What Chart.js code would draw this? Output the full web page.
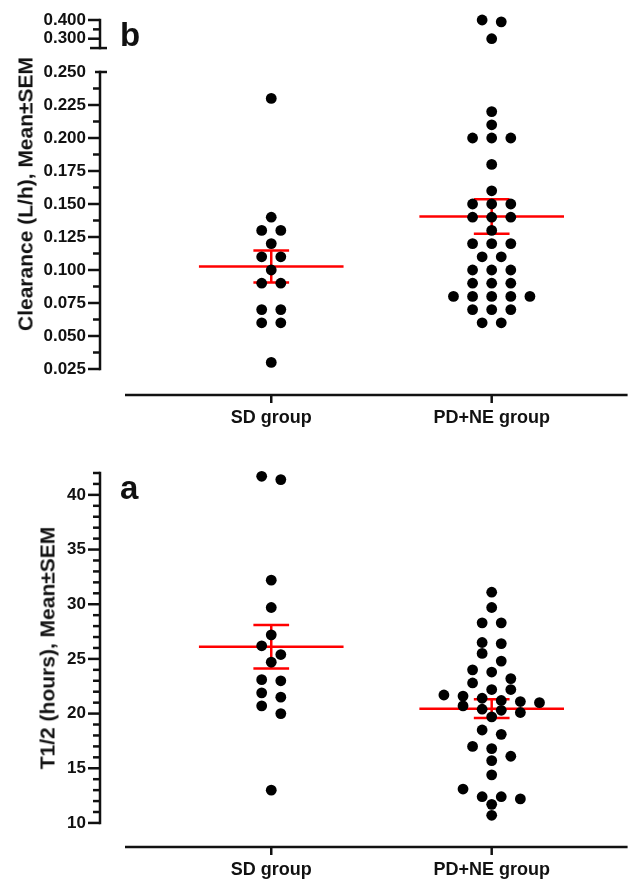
<!DOCTYPE html>
<html>
<head>
<meta charset="utf-8">
<script src="https://cdn.jsdelivr.net/npm/chart.js@4.4.1/dist/chart.umd.min.js"></script>
<style>
  html, body { margin: 0; padding: 0; background: #fff; }
  #page { position: relative; width: 633px; height: 881px; overflow: hidden; }
  canvas { position: absolute; left: 0; }
  .ytitle {
    position: absolute; white-space: nowrap; color: #111;
    font: bold 21px 'Liberation Sans', Arial, sans-serif; line-height: 21px;
    transform: translate(-50%, -50%) rotate(-90deg);
  }
  .letter {
    position: absolute; color: #111;
    font: bold 33px 'Liberation Sans', Arial, sans-serif; line-height: 33px;
  }
</style>
</head>
<body>
<div id="page">
  <canvas id="clUpper" width="633" height="56" style="top:0"></canvas>
  <canvas id="clLower" width="633" height="384" style="top:56px"></canvas>
  <canvas id="halfLife" width="633" height="441" style="top:440px"></canvas>
  <div class="ytitle" style="left:25px; top:194px">Clearance (L/h), Mean±SEM</div>
  <div class="ytitle" style="left:47px; top:648px">T1/2 (hours), Mean±SEM</div>
  <div class="letter" style="left:120px; top:18px">b</div>
  <div class="letter" style="left:120px; top:471px">a</div>
</div>
<script>
// data
const groups = ['SD group', 'PD+NE group'];

const sdClearance = [0.23, 0.14, 0.13, 0.13, 0.12, 0.11, 0.11, 0.10, 0.09, 0.09, 0.07, 0.07, 0.06, 0.06, 0.03];
const pdneClearance = [0.40, 0.39, 0.30, 0.22, 0.21, 0.20, 0.20, 0.20, 0.18, 0.16, 0.15, 0.15, 0.15,
  0.14, 0.14, 0.14, 0.13, 0.12, 0.12, 0.12, 0.11, 0.11, 0.10, 0.10, 0.10, 0.09, 0.09, 0.09,
  0.08, 0.08, 0.08, 0.08, 0.08, 0.07, 0.07, 0.07, 0.06, 0.06];

const sdHalfLife = [41.7, 41.4, 32.2, 29.7, 27.2, 26.2, 25.4, 24.7, 23.1, 23.0, 21.9, 21.5, 20.7, 20.0, 13.0];
const pdneHalfLife = [31.1, 29.7, 28.3, 28.3, 26.5, 26.4, 25.5, 24.8, 24.0, 23.8, 23.2, 22.8, 22.2, 22.2,
  21.7, 21.6, 21.4, 21.2, 21.1, 21.0, 20.7, 20.4, 20.3, 20.1, 19.7, 18.5, 18.1, 17.0, 16.8, 16.1,
  15.7, 14.4, 13.1, 12.4, 12.4, 12.2, 11.7, 10.7];

const clearanceTicksHigh = [0.3, 0.4];
const clearanceTicksLow = [0.025, 0.05, 0.075, 0.1, 0.125, 0.15, 0.175, 0.2, 0.225, 0.25];
const halfLifeTicks = [10, 15, 20, 25, 30, 35, 40];
const axisBreak = 0.25;

// look
const INK = '#111';
const RED = '#ff0000';
const FONT = "'Liberation Sans', Arial, sans-serif";
const X_MIN = 0.2232, X_MAX = 2.6165;
const STEP = 0.0867;       // beeswarm column spacing (x units)
const MEAN_HALF = 0.328;   // half length of mean bar
const CAP_HALF = 0.081;    // half length of SEM caps

const mean = a => a.reduce((s, v) => s + v, 0) / a.length;
const sem = a => {
  const m = mean(a);
  const sd = Math.sqrt(a.reduce((s, v) => s + (v - m) ** 2, 0) / (a.length - 1));
  return sd / Math.sqrt(a.length);
};

// simple row-binned beeswarm, like the prism dot plot
function swarm(values, center, binH) {
  const sorted = values.slice().sort((a, b) => b - a);
  const pts = [];
  let i = 0;
  while (i < sorted.length) {
    let j = i;
    while (j < sorted.length && sorted[i] - sorted[j] < binH) j++;
    const n = j - i;
    for (let k = 0; k < n; k++) pts.push({ x: center + (k - (n - 1) / 2) * STEP, y: sorted[i + k] });
    i = j;
  }
  return pts;
}

function dots(values, idx, binH) {
  return {
    data: swarm(values, idx + 1, binH),
    backgroundColor: '#000', borderWidth: 0,
    pointRadius: 5.4, pointHoverRadius: 5.4, clip: false
  };
}

const every = (from, to, step) => {
  const out = [];
  for (let v = from; v <= to + 1e-9; v += step) out.push(+v.toFixed(4));
  return out;
};

const frames = {
  clUpper: {
    axisFrom: 0.4, axisTo: axisBreak, major: clearanceTicksHigh, minor: [0.35], capBottom: true
  },
  clLower: {
    axisFrom: axisBreak, axisTo: 0.025, capTop: true, xAxis: true,
    major: clearanceTicksLow.filter(v => v < axisBreak),
    minor: every(0.0375, 0.2375, 0.025),
    stats: [sdClearance, pdneClearance]
  },
  halfLife: {
    axisFrom: 42, axisTo: 10, xAxis: true, major: halfLifeTicks,
    minor: every(11, 42, 1).filter(v => v % 5 !== 0),
    stats: [sdHalfLife, pdneHalfLife]
  }
};

function seg(ctx, x1, y1, x2, y2) {
  ctx.beginPath(); ctx.moveTo(x1, y1); ctx.lineTo(x2, y2); ctx.stroke();
}

const axesPlugin = {
  id: 'axes',
  beforeDatasetsDraw(chart) {
    const f = frames[chart.canvas.id];
    if (!f.stats) return;
    const { ctx, scales: { x, y } } = chart;
    ctx.save();
    ctx.strokeStyle = RED;
    ctx.lineWidth = 2.5;
    f.stats.forEach((vals, i) => {
      const c = i + 1, m = mean(vals), e = sem(vals);
      const py = y.getPixelForValue(m);
      seg(ctx, x.getPixelForValue(c - MEAN_HALF), py, x.getPixelForValue(c + MEAN_HALF), py);
      seg(ctx, x.getPixelForValue(c), y.getPixelForValue(m - e), x.getPixelForValue(c), y.getPixelForValue(m + e));
      [m - e, m + e].forEach(v => {
        const p = y.getPixelForValue(v);
        seg(ctx, x.getPixelForValue(c - CAP_HALF), p, x.getPixelForValue(c + CAP_HALF), p);
      });
    });
    ctx.restore();
  },
  afterDraw(chart) {
    const f = frames[chart.canvas.id];
    const { ctx, chartArea: a, scales: { x, y } } = chart;
    const ax = a.left;
    ctx.save();
    ctx.strokeStyle = INK;
    ctx.lineWidth = 2.5;
    const top = y.getPixelForValue(f.axisFrom), bot = y.getPixelForValue(f.axisTo);
    seg(ctx, ax, top - 1.2, ax, bot + 1.2);
    f.major.forEach(v => { const p = y.getPixelForValue(v); seg(ctx, ax - 12, p, ax, p); });
    f.minor.forEach(v => { const p = y.getPixelForValue(v); seg(ctx, ax - 7, p, ax, p); });
    if (f.capTop) seg(ctx, ax - 5, top, ax + 7, top);
    if (f.capBottom) seg(ctx, ax - 10, bot, ax + 7, bot);
    if (f.xAxis) {
      const yy = a.bottom;
      seg(ctx, ax + 25, yy, a.right, yy);
      groups.forEach((g, i) => {
        const px = x.getPixelForValue(i + 1);
        seg(ctx, px, yy, px, yy + 8);
      });
    }
    ctx.restore();
  }
};

function makeChart(id, cfg) {
  return new Chart(document.getElementById(id), {
    type: 'scatter',
    data: { datasets: cfg.datasets },
    options: {
      responsive: false,
      animation: false,
      events: [],
      layout: { padding: { top: cfg.padTop, left: 0, right: 0, bottom: 0 } },
      plugins: { legend: { display: false }, tooltip: { enabled: false } },
      scales: {
        x: {
          type: 'linear', min: X_MIN, max: X_MAX, display: cfg.showX,
          afterBuildTicks: s => { s.ticks = groups.map((g, i) => ({ value: i + 1 })); },
          afterFit: s => { s.height = cfg.xHeight; s.paddingLeft = 0; s.paddingRight = 0; },
          ticks: {
            callback: v => groups[v - 1], color: INK, padding: 4, autoSkip: false, maxRotation: 0,
            font: { family: FONT, size: 18, weight: 'bold' }
          },
          grid: { display: true, drawOnChartArea: false, drawTicks: true, tickLength: 8, tickColor: 'rgba(0,0,0,0)' },
          border: { display: false }
        },
        y: {
          type: 'linear', min: cfg.yMin, max: cfg.yMax,
          afterBuildTicks: s => { s.ticks = cfg.ticks.map(v => ({ value: v })); },
          afterFit: s => { s.width = 100; s.paddingTop = 0; s.paddingBottom = 0; },
          ticks: {
            callback: cfg.fmt, color: INK, padding: 2, autoSkip: false,
            font: { family: FONT, size: 17, weight: 'bold' }
          },
          grid: { display: true, drawOnChartArea: false, drawTicks: true, tickLength: 12, tickColor: 'rgba(0,0,0,0)' },
          border: { display: false }
        }
      }
    },
    plugins: [axesPlugin]
  });
}

const fmt3 = v => Number(v).toFixed(3);

makeChart('clUpper', {
  datasets: [dots(pdneClearance.filter(v => v > axisBreak), 1, 0.05)],
  padTop: 20, yMin: 0.2364, yMax: 0.4, ticks: clearanceTicksHigh, fmt: fmt3,
  showX: false, xHeight: 0
});

makeChart('clLower', {
  datasets: [
    dots(sdClearance.filter(v => v <= axisBreak), 0, 0.005),
    dots(pdneClearance.filter(v => v <= axisBreak), 1, 0.005)
  ],
  padTop: 16, yMin: 0.0053, yMax: axisBreak, ticks: clearanceTicksLow, fmt: fmt3,
  showX: true, xHeight: 45
});

makeChart('halfLife', {
  datasets: [dots(sdHalfLife, 0, 0.99), dots(pdneHalfLife, 1, 0.99)],
  padTop: 33, yMin: 7.8, yMax: 42, ticks: halfLifeTicks, fmt: v => String(v),
  showX: true, xHeight: 34
});
</script>
</body>
</html>
